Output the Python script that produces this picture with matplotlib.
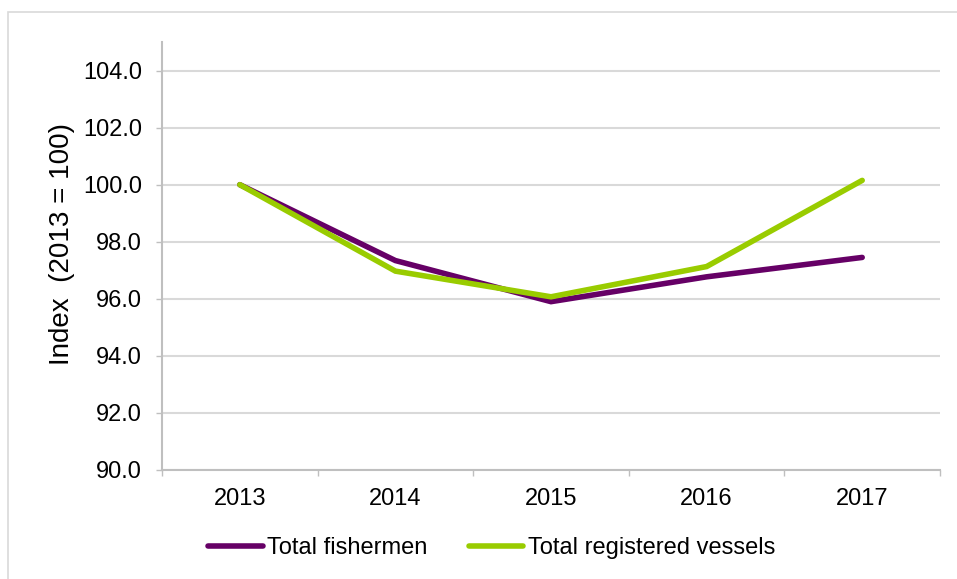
'''
Fishermen and registered vessels index, 2013-2017
'''

import numpy as np
import matplotlib.pyplot as plt
from matplotlib.patches import Rectangle

years = ['2013', '2014', '2015', '2016', '2017']
fishermen = [100.0, 97.34, 95.9, 96.77, 97.45]
vessels = [100.0, 96.97, 96.07, 97.13, 100.15]
y_ticks = [90, 92, 94, 96, 98, 100, 102, 104]

purple = '#660066'
green = '#99CC00'
grid_col = '#D9D9D9'
axis_col = '#BFBFBF'

plt.rcParams['font.family'] = ['Liberation Sans', 'DejaVu Sans']

fig = plt.figure(figsize=(9.57, 5.79), dpi=100)
ax = fig.add_axes([162/957, 1 - 470/579, 778/957, 428/579])

x = np.arange(len(years))
ax.plot(x, fishermen, color=purple, lw=4, solid_capstyle='round',
        solid_joinstyle='miter', label='Total fishermen', zorder=3)
ax.plot(x, vessels, color=green, lw=4, solid_capstyle='round',
        solid_joinstyle='miter', label='Total registered vessels', zorder=4)

ax.set_xlim(-0.5, len(years) - 0.5)
ax.set_ylim(90, 105)
ax.set_yticks(y_ticks)
ax.set_yticklabels(['%.1f' % v for v in y_ticks])
ax.set_xticks(x)
ax.set_xticklabels(years)
ax.set_xticks(np.arange(len(years) + 1) - 0.5, minor=True)

ax.tick_params(axis='x', which='major', length=0, pad=13, labelsize=17)
ax.tick_params(axis='x', which='minor', length=4.5, width=1, color=axis_col)
ax.tick_params(axis='y', length=4.5, width=1, color=axis_col, pad=10, labelsize=17)

ax.grid(axis='y', color=grid_col, lw=1.5)
ax.set_axisbelow(True)
for s in ['top', 'right']:
    ax.spines[s].set_visible(False)
for s in ['left', 'bottom']:
    ax.spines[s].set_color(axis_col)
    ax.spines[s].set_linewidth(1.5)

ax.set_ylabel('Index  (2013 = 100)', fontsize=20)
ax.yaxis.set_label_coords(-0.112, 0.528)

fig.legend(loc='center', bbox_to_anchor=(492/957, 31/579), ncol=2, frameon=False,
           fontsize=17, handlelength=2.3, handletextpad=0.2, columnspacing=1.75)

# outer chart border
fig.patches.append(Rectangle((8/957, -0.05), 1.1, 1 - 12/579 + 0.05,
                             transform=fig.transFigure, fill=False,
                             edgecolor=grid_col, lw=1.2))

fig.savefig('out.png', dpi=100)
